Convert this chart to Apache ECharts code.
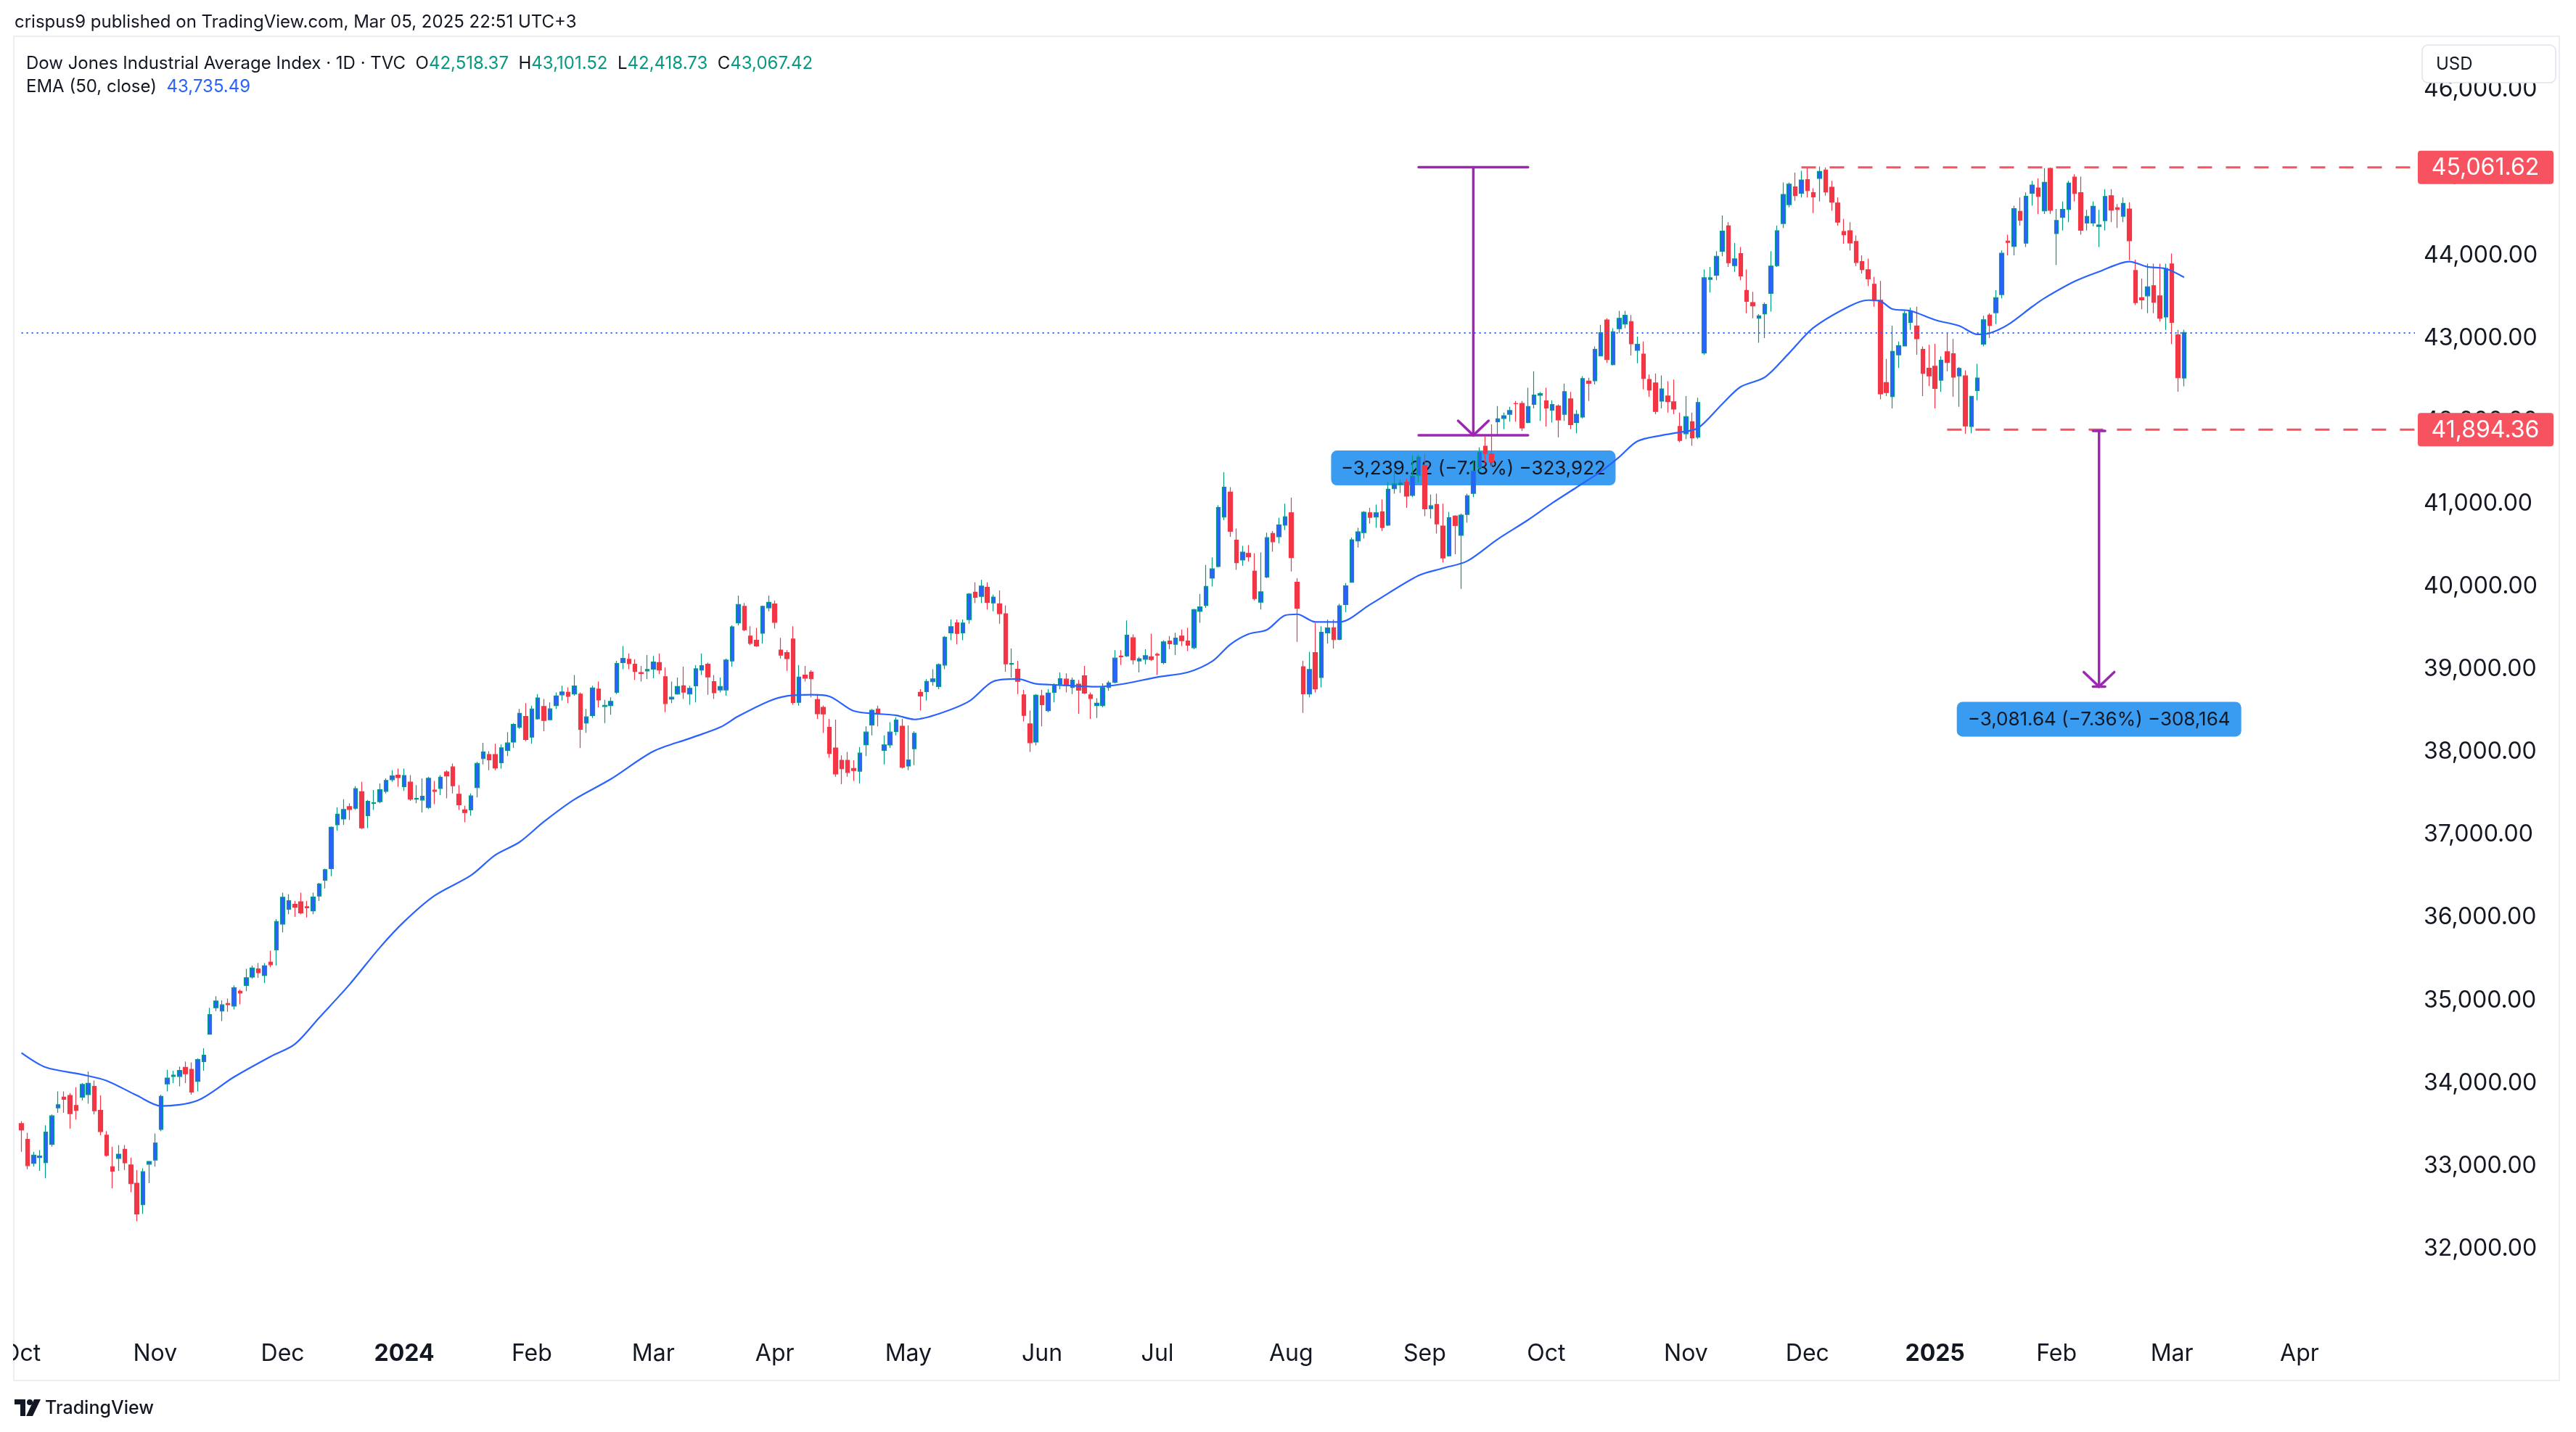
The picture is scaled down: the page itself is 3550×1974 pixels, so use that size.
<!DOCTYPE html>
<html>
<head>
<meta charset="utf-8">
<title>Dow Jones Industrial Average Index</title>
<script src="https://cdn.jsdelivr.net/npm/echarts@6/dist/echarts.min.js"></script>
<style>
  html, body { margin: 0; padding: 0; background: #fff; }
  #chart { width: 3550px; height: 1974px; }
</style>
</head>
<body>
<div id="chart"></div>
<script>
// daily bars: [date, open, close, low, high]
const oct23 = [
  ['2023-10-02', 33510, 33433, 33170, 33540], ['2023-10-03', 33320, 33002, 32960, 33400],
  ['2023-10-04', 33030, 33129, 32990, 33170], ['2023-10-05', 33100, 33119, 32940, 33190],
  ['2023-10-06', 33040, 33407, 32850, 33490], ['2023-10-09', 33260, 33604, 33230, 33620],
  ['2023-10-10', 33700, 33739, 33640, 33900], ['2023-10-11', 33830, 33804, 33640, 33900],
  ['2023-10-12', 33850, 33631, 33450, 33880], ['2023-10-13', 33730, 33670, 33560, 33950],
  ['2023-10-16', 33830, 33984, 33790, 34000], ['2023-10-17', 33860, 33997, 33750, 34140],
  ['2023-10-18', 33960, 33665, 33620, 34030], ['2023-10-19', 33670, 33414, 33370, 33850],
  ['2023-10-20', 33370, 33127, 33110, 33420], ['2023-10-23', 32990, 32936, 32730, 33230],
  ['2023-10-24', 33090, 33141, 32940, 33250], ['2023-10-25', 33200, 33036, 32950, 33250],
  ['2023-10-26', 33010, 32784, 32680, 33100], ['2023-10-27', 32790, 32418, 32330, 32950],
  ['2023-10-30', 32530, 32929, 32420, 32970], ['2023-10-31', 33020, 33053, 32790, 33060]
];
const nov23 = [
  ['2023-11-01', 33070, 33275, 32990, 33390], ['2023-11-02', 33440, 33839, 33420, 33860],
  ['2023-11-03', 33990, 34061, 33900, 34160], ['2023-11-06', 34080, 34096, 34000, 34150],
  ['2023-11-07', 34080, 34153, 33960, 34200], ['2023-11-08', 34190, 34112, 34000, 34260],
  ['2023-11-09', 34166, 33892, 33860, 34250], ['2023-11-10', 34020, 34283, 33900, 34300],
  ['2023-11-13', 34260, 34337, 34150, 34420], ['2023-11-14', 34590, 34828, 34590, 34910],
  ['2023-11-15', 34910, 34991, 34870, 35050], ['2023-11-16', 34870, 34945, 34750, 35000],
  ['2023-11-17', 34960, 34947, 34860, 35020], ['2023-11-20', 34930, 35151, 34890, 35180],
  ['2023-11-21', 35110, 35088, 34950, 35130], ['2023-11-22', 35180, 35273, 35110, 35380],
  ['2023-11-24', 35280, 35390, 35260, 35420], ['2023-11-27', 35380, 35333, 35270, 35450],
  ['2023-11-28', 35300, 35417, 35210, 35450], ['2023-11-29', 35460, 35430, 35400, 35600],
  ['2023-11-30', 35610, 35951, 35420, 35980]
];
const dec23 = [
  ['2023-12-01', 35920, 36246, 35820, 36300], ['2023-12-04', 36100, 36204, 36040, 36280],
  ['2023-12-05', 36160, 36125, 36010, 36200], ['2023-12-06', 36190, 36055, 36040, 36300],
  ['2023-12-07', 36130, 36118, 36000, 36200], ['2023-12-08', 36080, 36248, 36040, 36300],
  ['2023-12-11', 36260, 36404, 36200, 36420], ['2023-12-12', 36450, 36578, 36350, 36590],
  ['2023-12-13', 36590, 37090, 36500, 37100], ['2023-12-14', 37120, 37248, 37050, 37330],
  ['2023-12-15', 37190, 37306, 37120, 37430], ['2023-12-18', 37340, 37306, 37180, 37380],
  ['2023-12-19', 37320, 37558, 37300, 37590], ['2023-12-20', 37520, 37083, 37070, 37640],
  ['2023-12-21', 37230, 37405, 37080, 37420], ['2023-12-22', 37380, 37386, 37300, 37540],
  ['2023-12-26', 37400, 37545, 37380, 37620], ['2023-12-27', 37525, 37657, 37500, 37680],
  ['2023-12-28', 37665, 37710, 37640, 37780], ['2023-12-29', 37720, 37690, 37580, 37800]
];
const jan24 = [
  ['2024-01-02', 37580, 37715, 37530, 37800], ['2024-01-03', 37636, 37430, 37410, 37720],
  ['2024-01-04', 37430, 37440, 37380, 37600], ['2024-01-05', 37420, 37466, 37270, 37680],
  ['2024-01-08', 37330, 37683, 37310, 37700], ['2024-01-09', 37540, 37525, 37370, 37650],
  ['2024-01-10', 37560, 37696, 37480, 37720], ['2024-01-11', 37760, 37711, 37440, 37780],
  ['2024-01-12', 37820, 37593, 37500, 37860], ['2024-01-16', 37490, 37361, 37300, 37600],
  ['2024-01-17', 37300, 37267, 37150, 37350], ['2024-01-18', 37300, 37469, 37230, 37500],
  ['2024-01-19', 37570, 37863, 37450, 37880], ['2024-01-22', 37920, 38001, 37850, 38110],
  ['2024-01-23', 37970, 37906, 37780, 38010], ['2024-01-24', 37970, 37807, 37780, 38100],
  ['2024-01-25', 37870, 38050, 37800, 38090], ['2024-01-26', 38020, 38109, 37950, 38240],
  ['2024-01-29', 38120, 38333, 38050, 38350], ['2024-01-30', 38300, 38467, 38280, 38520],
  ['2024-01-31', 38430, 38150, 38130, 38590]
];
const feb24 = [
  ['2024-02-01', 38180, 38520, 38100, 38560], ['2024-02-02', 38400, 38654, 38390, 38700],
  ['2024-02-05', 38550, 38380, 38250, 38640], ['2024-02-06', 38390, 38521, 38390, 38600],
  ['2024-02-07', 38560, 38677, 38520, 38720], ['2024-02-08', 38690, 38726, 38620, 38800],
  ['2024-02-09', 38720, 38672, 38590, 38780], ['2024-02-12', 38700, 38797, 38680, 38930],
  ['2024-02-13', 38700, 38273, 38050, 38720], ['2024-02-14', 38350, 38424, 38230, 38520],
  ['2024-02-15', 38440, 38773, 38410, 38800], ['2024-02-16', 38760, 38628, 38540, 38850],
  ['2024-02-20', 38550, 38564, 38350, 38630], ['2024-02-21', 38560, 38612, 38450, 38660],
  ['2024-02-22', 38720, 39069, 38700, 39100], ['2024-02-23', 39080, 39131, 39000, 39280],
  ['2024-02-26', 39120, 39069, 39000, 39190], ['2024-02-27', 39060, 38972, 38870, 39120],
  ['2024-02-28', 38960, 38949, 38850, 39040], ['2024-02-29', 38980, 38996, 38880, 39170]
];
const mar24 = [
  ['2024-03-01', 39000, 39087, 38890, 39160], ['2024-03-04', 39080, 38990, 38940, 39190],
  ['2024-03-05', 38910, 38585, 38480, 39020], ['2024-03-06', 38640, 38661, 38590, 38850],
  ['2024-03-07', 38700, 38791, 38690, 38900], ['2024-03-08', 38800, 38723, 38640, 39030],
  ['2024-03-11', 38700, 38770, 38570, 38800], ['2024-03-12', 38800, 39005, 38600, 39050],
  ['2024-03-13', 38990, 39043, 38930, 39190], ['2024-03-14', 39060, 38906, 38690, 39080],
  ['2024-03-15', 38850, 38715, 38640, 38930], ['2024-03-18', 38750, 38790, 38720, 38900],
  ['2024-03-19', 38750, 39111, 38680, 39130], ['2024-03-20', 39100, 39512, 39030, 39530],
  ['2024-03-21', 39560, 39781, 39530, 39890], ['2024-03-22', 39760, 39476, 39460, 39800],
  ['2024-03-25', 39400, 39313, 39290, 39520], ['2024-03-26', 39350, 39282, 39270, 39500],
  ['2024-03-27', 39434, 39760, 39310, 39770], ['2024-03-28', 39741, 39807, 39700, 39890]
];
const apr24 = [
  ['2024-04-01', 39787, 39567, 39490, 39830], ['2024-04-02', 39232, 39170, 39130, 39380],
  ['2024-04-03', 39200, 39127, 38980, 39230], ['2024-04-04', 39364, 38597, 38570, 39520],
  ['2024-04-05', 38600, 38904, 38560, 39050], ['2024-04-08', 38930, 38892, 38850, 39040],
  ['2024-04-09', 38963, 38884, 38660, 38990], ['2024-04-10', 38633, 38462, 38400, 38700],
  ['2024-04-11', 38540, 38459, 38230, 38560], ['2024-04-12', 38297, 37983, 37930, 38400],
  ['2024-04-15', 38048, 37735, 37700, 38390], ['2024-04-16', 37900, 37799, 37610, 37960],
  ['2024-04-17', 37900, 37753, 37700, 38000], ['2024-04-18', 37800, 37775, 37650, 37900],
  ['2024-04-19', 37768, 37986, 37620, 38060], ['2024-04-22', 38087, 38240, 37950, 38310],
  ['2024-04-23', 38327, 38504, 38200, 38520], ['2024-04-24', 38520, 38461, 38310, 38560],
  ['2024-04-25', 38020, 38086, 37850, 38200], ['2024-04-26', 38085, 38240, 38050, 38360],
  ['2024-04-29', 38248, 38386, 38200, 38420], ['2024-04-30', 38312, 37816, 37800, 38400]
];
const may24 = [
  ['2024-05-01', 37830, 37903, 37780, 38320], ['2024-05-02', 38040, 38226, 37840, 38250],
  ['2024-05-03', 38720, 38676, 38500, 38760], ['2024-05-06', 38730, 38852, 38620, 38880],
  ['2024-05-07', 38850, 38884, 38800, 39000], ['2024-05-08', 38790, 39056, 38760, 39070],
  ['2024-05-09', 39050, 39388, 39000, 39400], ['2024-05-10', 39440, 39513, 39350, 39600],
  ['2024-05-13', 39560, 39432, 39300, 39600], ['2024-05-14', 39440, 39558, 39350, 39600],
  ['2024-05-15', 39600, 39908, 39550, 39920], ['2024-05-16', 39930, 39869, 39800, 40050],
  ['2024-05-17', 39880, 40004, 39800, 40080], ['2024-05-20', 39990, 39807, 39720, 40050],
  ['2024-05-21', 39800, 39872, 39700, 39900], ['2024-05-22', 39790, 39671, 39550, 39950],
  ['2024-05-23', 39670, 39065, 38970, 39770], ['2024-05-24', 39060, 39070, 38900, 39250],
  ['2024-05-28', 39000, 38853, 38700, 39100], ['2024-05-29', 38690, 38442, 38370, 38750],
  ['2024-05-30', 38340, 38112, 38000, 38500], ['2024-05-31', 38120, 38686, 38080, 38700]
];
const jun24 = [
  ['2024-06-03', 38680, 38571, 38310, 38750], ['2024-06-04', 38500, 38711, 38480, 38760],
  ['2024-06-05', 38720, 38807, 38600, 38830], ['2024-06-06', 38820, 38886, 38760, 38960],
  ['2024-06-07', 38880, 38799, 38720, 38950], ['2024-06-10', 38780, 38868, 38700, 38900],
  ['2024-06-11', 38820, 38747, 38460, 38870], ['2024-06-12', 38920, 38712, 38700, 39040],
  ['2024-06-13', 38690, 38647, 38400, 38720], ['2024-06-14', 38560, 38589, 38410, 38650],
  ['2024-06-17', 38560, 38778, 38540, 38830], ['2024-06-18', 38780, 38834, 38740, 38860],
  ['2024-06-20', 38840, 39134, 38830, 39230], ['2024-06-21', 39160, 39150, 39050, 39230],
  ['2024-06-24', 39160, 39411, 39150, 39590], ['2024-06-25', 39380, 39112, 39060, 39420],
  ['2024-06-26', 39100, 39127, 38960, 39150], ['2024-06-27', 39120, 39164, 39060, 39240],
  ['2024-06-28', 39150, 39118, 39100, 39430]
];
const jul24 = [
  ['2024-07-01', 39180, 39170, 38930, 39200], ['2024-07-02', 39080, 39331, 39060, 39350],
  ['2024-07-03', 39340, 39308, 39240, 39400], ['2024-07-05', 39300, 39375, 39170, 39440],
  ['2024-07-08', 39400, 39344, 39280, 39480], ['2024-07-09', 39340, 39291, 39220, 39500],
  ['2024-07-10', 39260, 39721, 39240, 39730], ['2024-07-11', 39700, 39753, 39560, 39910],
  ['2024-07-12', 39770, 40001, 39740, 40260], ['2024-07-15', 40100, 40212, 40000, 40350],
  ['2024-07-16', 40240, 40954, 40230, 40980], ['2024-07-17', 40840, 41198, 40800, 41380],
  ['2024-07-18', 41140, 40665, 40600, 41200], ['2024-07-19', 40560, 40288, 40200, 40700],
  ['2024-07-22', 40320, 40415, 40250, 40490], ['2024-07-23', 40400, 40358, 40300, 40500],
  ['2024-07-24', 40185, 39854, 39830, 40400], ['2024-07-25', 39810, 39935, 39720, 40410],
  ['2024-07-26', 40115, 40589, 40100, 40650], ['2024-07-29', 40640, 40540, 40420, 40670],
  ['2024-07-30', 40600, 40743, 40520, 40830], ['2024-07-31', 40740, 40842, 40680, 41000]
];
const aug24 = [
  ['2024-08-01', 40890, 40348, 40180, 41073], ['2024-08-02', 40050, 39737, 39330, 40100],
  ['2024-08-05', 39030, 38703, 38473, 39100], ['2024-08-06', 38700, 38997, 38660, 39210],
  ['2024-08-07', 39200, 38763, 38720, 39560], ['2024-08-08', 38900, 39446, 38780, 39520],
  ['2024-08-09', 39440, 39498, 39310, 39600], ['2024-08-12', 39500, 39357, 39250, 39600],
  ['2024-08-13', 39360, 39765, 39350, 39790], ['2024-08-14', 39780, 40008, 39690, 40040],
  ['2024-08-15', 40050, 40564, 40050, 40590], ['2024-08-16', 40550, 40660, 40470, 40710],
  ['2024-08-19', 40650, 40897, 40580, 40910], ['2024-08-20', 40890, 40834, 40760, 40950],
  ['2024-08-21', 40840, 40890, 40710, 40990], ['2024-08-22', 40900, 40713, 40670, 41050],
  ['2024-08-23', 40740, 41175, 40730, 41260], ['2024-08-26', 41180, 41240, 41120, 41420],
  ['2024-08-27', 41230, 41250, 41130, 41290], ['2024-08-28', 41260, 41091, 40950, 41300],
  ['2024-08-29', 41100, 41335, 41080, 41580], ['2024-08-30', 41344, 41563, 41260, 41590]
];
const sep24 = [
  ['2024-09-03', 41460, 40937, 40850, 41600], ['2024-09-04', 40940, 40975, 40820, 41110],
  ['2024-09-05', 40990, 40755, 40640, 41120], ['2024-09-06', 40731, 40345, 40290, 41000],
  ['2024-09-09', 40370, 40830, 40360, 40900], ['2024-09-10', 40850, 40736, 40390, 40860],
  ['2024-09-11', 40617, 40862, 39971, 40880], ['2024-09-12', 40870, 41097, 40770, 41120],
  ['2024-09-13', 41125, 41394, 41080, 41530], ['2024-09-16', 41437, 41622, 41380, 41680],
  ['2024-09-17', 41695, 41606, 41470, 41812], ['2024-09-18', 41600, 41504, 41450, 41958],
  ['2024-09-19', 41990, 42025, 41826, 42180], ['2024-09-20', 42030, 42063, 41900, 42100],
  ['2024-09-23', 42080, 42125, 41990, 42170], ['2024-09-24', 42210, 42208, 41990, 42240],
  ['2024-09-25', 42212, 41915, 41880, 42240], ['2024-09-26', 41980, 42175, 41970, 42400],
  ['2024-09-27', 42200, 42313, 42150, 42600], ['2024-09-30', 42310, 42330, 42000, 42350]
];
const oct24 = [
  ['2024-10-01', 42241, 42156, 41932, 42400], ['2024-10-02', 42130, 42197, 41980, 42250],
  ['2024-10-03', 42180, 42012, 41800, 42200], ['2024-10-04', 42080, 42353, 42000, 42450],
  ['2024-10-07', 42265, 41954, 41900, 42350], ['2024-10-08', 41980, 42080, 41850, 42130],
  ['2024-10-09', 42046, 42512, 42030, 42540], ['2024-10-10', 42480, 42454, 42240, 42520],
  ['2024-10-11', 42484, 42864, 42440, 42900], ['2024-10-14', 42784, 43065, 42780, 43160],
  ['2024-10-15', 43219, 42740, 42700, 43240], ['2024-10-16', 42679, 43077, 42670, 43120],
  ['2024-10-17', 43114, 43239, 43060, 43330], ['2024-10-18', 43170, 43276, 43120, 43330],
  ['2024-10-21', 43200, 42931, 42790, 43280], ['2024-10-22', 42852, 42925, 42697, 43018],
  ['2024-10-23', 42808, 42514, 42380, 42960], ['2024-10-24', 42501, 42374, 42290, 42560],
  ['2024-10-25', 42458, 42114, 42080, 42571], ['2024-10-28', 42239, 42387, 42150, 42550],
  ['2024-10-29', 42300, 42233, 42100, 42480], ['2024-10-30', 42230, 42142, 42080, 42500],
  ['2024-10-31', 41932, 41763, 41740, 42100]
];
const nov24 = [
  ['2024-11-01', 41844, 42052, 41780, 42300], ['2024-11-04', 41989, 41794, 41700, 42100],
  ['2024-11-05', 41803, 42222, 41780, 42280], ['2024-11-06', 42820, 43729, 42800, 43830],
  ['2024-11-07', 43710, 43729, 43550, 43860], ['2024-11-08', 43759, 43989, 43700, 44050],
  ['2024-11-11', 44050, 44293, 43990, 44482], ['2024-11-12', 44356, 43911, 43860, 44400],
  ['2024-11-13', 43876, 43958, 43800, 44150], ['2024-11-14', 44021, 43751, 43700, 44100],
  ['2024-11-15', 43576, 43445, 43300, 43830], ['2024-11-18', 43430, 43390, 43240, 43560],
  ['2024-11-19', 43240, 43269, 42943, 43290], ['2024-11-20', 43293, 43408, 43000, 43430],
  ['2024-11-21', 43540, 43870, 43320, 44050], ['2024-11-22', 43876, 44297, 43860, 44360],
  ['2024-11-25', 44385, 44736, 44330, 44880], ['2024-11-26', 44613, 44860, 44580, 44880],
  ['2024-11-27', 44828, 44722, 44660, 45000], ['2024-11-29', 44750, 44911, 44700, 45020]
];
const dec24 = [
  ['2024-12-02', 44916, 44782, 44700, 45060], ['2024-12-03', 44758, 44706, 44510, 44810],
  ['2024-12-04', 44930, 45014, 44650, 45074], ['2024-12-05', 45032, 44766, 44720, 45060],
  ['2024-12-06', 44823, 44643, 44540, 44900], ['2024-12-09', 44633, 44401, 44360, 44700],
  ['2024-12-10', 44289, 44248, 44140, 44440], ['2024-12-11', 44298, 44149, 44060, 44400],
  ['2024-12-12', 44167, 43914, 43870, 44240], ['2024-12-13', 43925, 43828, 43780, 44000],
  ['2024-12-16', 43826, 43717, 43630, 43960], ['2024-12-17', 43651, 43450, 43380, 43740],
  ['2024-12-18', 43459, 42327, 42260, 43690], ['2024-12-19', 42463, 42342, 42300, 42750],
  ['2024-12-20', 42294, 42840, 42150, 43150], ['2024-12-23', 42797, 42907, 42640, 42960],
  ['2024-12-24', 42905, 43297, 42900, 43330], ['2024-12-26', 43191, 43326, 43100, 43370],
  ['2024-12-27', 43147, 42992, 42800, 43380], ['2024-12-30', 42864, 42574, 42300, 42900],
  ['2024-12-31', 42637, 42544, 42420, 42920]
];
const jan25 = [
  ['2025-01-02', 42660, 42392, 42150, 42930], ['2025-01-03', 42492, 42732, 42350, 42780],
  ['2025-01-06', 42835, 42706, 42600, 43060], ['2025-01-07', 42812, 42528, 42290, 42990],
  ['2025-01-08', 42544, 42635, 42170, 42650], ['2025-01-10', 42544, 41938, 41844, 42610],
  ['2025-01-13', 41932, 42297, 41850, 42300], ['2025-01-14', 42367, 42518, 42250, 42690],
  ['2025-01-15', 42928, 43222, 42900, 43270], ['2025-01-16', 43278, 43153, 43000, 43300],
  ['2025-01-17', 43307, 43488, 43170, 43580], ['2025-01-21', 43526, 44026, 43480, 44060],
  ['2025-01-22', 44173, 44157, 44000, 44250], ['2025-01-23', 44109, 44565, 44000, 44600],
  ['2025-01-24', 44531, 44424, 44360, 44700], ['2025-01-27', 44147, 44714, 44100, 44760],
  ['2025-01-28', 44750, 44850, 44600, 44900], ['2025-01-29', 44814, 44714, 44500, 44930],
  ['2025-01-30', 44537, 44882, 44500, 45054], ['2025-01-31', 45050, 44545, 44500, 45061]
];
const feb25 = [
  ['2025-02-03', 44263, 44421, 43884, 44560], ['2025-02-04', 44459, 44556, 44300, 44650],
  ['2025-02-05', 44555, 44873, 44400, 44900], ['2025-02-06', 44945, 44747, 44650, 44980],
  ['2025-02-07', 44758, 44303, 44250, 44950], ['2025-02-10', 44391, 44470, 44300, 44550],
  ['2025-02-11', 44391, 44593, 44350, 44650], ['2025-02-12', 44350, 44368, 44100, 44550],
  ['2025-02-13', 44420, 44711, 44300, 44800], ['2025-02-14', 44720, 44546, 44400, 44800],
  ['2025-02-18', 44575, 44556, 44330, 44620], ['2025-02-19', 44473, 44628, 44400, 44700],
  ['2025-02-20', 44560, 44177, 43940, 44640], ['2025-02-21', 43817, 43428, 43400, 43948],
  ['2025-02-24', 43488, 43461, 43350, 43720], ['2025-02-25', 43511, 43621, 43300, 43900],
  ['2025-02-26', 43634, 43433, 43300, 43900], ['2025-02-27', 43511, 43240, 43200, 43900],
  ['2025-02-28', 43255, 43841, 43100, 43900]
];
const mar25 = [
  ['2025-03-03', 43896, 43191, 42929, 44022], ['2025-03-04', 43040, 42521, 42352, 43100],
  ['2025-03-05', 42518.37, 43067.42, 42418.73, 43101.52]
];

// empty trading days to the right of the last bar
const futureDates = [
  '2025-03-06', '2025-03-07', '2025-03-10', '2025-03-11', '2025-03-12', '2025-03-13', '2025-03-14',
  '2025-03-17', '2025-03-18', '2025-03-19', '2025-03-20', '2025-03-21', '2025-03-24', '2025-03-25',
  '2025-03-26', '2025-03-27', '2025-03-28', '2025-03-31', '2025-04-01', '2025-04-02', '2025-04-03',
  '2025-04-04', '2025-04-07', '2025-04-08', '2025-04-09', '2025-04-10', '2025-04-11', '2025-04-14',
  '2025-04-15', '2025-04-16', '2025-04-17', '2025-04-21', '2025-04-22', '2025-04-23', '2025-04-24',
  '2025-04-25', '2025-04-28', '2025-04-29'
];

// EMA (50, close)
const emaDates = [
  '2023-10-02', '2023-10-06', '2023-10-16', '2023-10-20', '2023-10-27', '2023-11-02', '2023-11-10',
  '2023-11-20', '2023-11-29', '2023-12-05', '2023-12-11', '2023-12-18', '2023-12-26', '2024-01-02',
  '2024-01-09', '2024-01-18', '2024-01-24', '2024-01-30', '2024-02-05', '2024-02-12', '2024-02-21',
  '2024-03-01', '2024-03-11', '2024-03-18', '2024-03-21', '2024-03-28', '2024-04-03', '2024-04-09',
  '2024-04-12', '2024-04-18', '2024-04-24', '2024-04-29', '2024-05-02', '2024-05-08', '2024-05-15',
  '2024-05-21', '2024-05-28', '2024-05-31', '2024-06-06', '2024-06-14', '2024-06-21', '2024-07-01',
  '2024-07-09', '2024-07-15', '2024-07-18', '2024-07-23', '2024-07-26', '2024-07-31', '2024-08-02',
  '2024-08-07', '2024-08-13', '2024-08-20', '2024-08-30', '2024-09-06', '2024-09-12', '2024-09-19',
  '2024-09-26', '2024-10-02', '2024-10-08', '2024-10-14', '2024-10-17', '2024-10-22', '2024-10-28',
  '2024-10-31', '2024-11-05', '2024-11-11', '2024-11-14', '2024-11-20', '2024-11-26', '2024-12-03',
  '2024-12-11', '2024-12-16', '2024-12-18', '2024-12-20', '2024-12-26', '2025-01-02', '2025-01-08',
  '2025-01-14', '2025-01-16', '2025-01-22', '2025-01-28', '2025-01-30', '2025-02-06', '2025-02-12',
  '2025-02-20', '2025-02-25', '2025-02-28', '2025-03-05'
];
const emaValues = [
  34365, 34190, 34102, 34029, 33850, 33722, 33790,
  34074, 34320, 34470, 34789, 35191, 35638, 35951,
  36264, 36510, 36756, 36912, 37158, 37426, 37672,
  38007, 38164, 38298, 38432, 38613, 38677, 38692,
  38672, 38496, 38461, 38443, 38393, 38461, 38613,
  38853, 38882, 38823, 38809, 38788, 38818, 38905,
  38963, 39095, 39300, 39425, 39475, 39650, 39664,
  39571, 39571, 39781, 40132, 40220, 40307, 40570,
  40803, 41008, 41198, 41390, 41563, 41754, 41826,
  41862, 41914, 42206, 42411, 42528, 42820, 43126,
  43389, 43459, 43447, 43351, 43330, 43220, 43148,
  43045, 43060, 43162, 43380, 43482, 43686, 43803,
  43925, 43861, 43838, 43735.49
];

// horizontal rays drawn on the chart
const rayStart = ['2024-11-29', '2025-01-06'];
const rayPrice = [45061.62, 41894.36];

// price range measurements
const rangeCapFrom = ['2024-08-30', '2025-02-11'];
const rangeCapTo = ['2024-09-26', '2025-02-13'];
const rangeAt = ['2024-09-13', '2025-02-12'];
const rangeFrom = [45065, 41880];
const rangeTo = [41826, 38790];
const rangeText = ['\u22123,239.22 (\u22127.18%) \u2212323,922', '\u22123,081.64 (\u22127.36%) \u2212308,164'];

const monthNames = ['Jan', 'Feb', 'Mar', 'Apr', 'May', 'Jun', 'Jul', 'Aug', 'Sep', 'Oct', 'Nov', 'Dec'];

const bars = [].concat(oct23, nov23, dec23, jan24, feb24, mar24, apr24, may24, jun24,
  jul24, aug24, sep24, oct24, nov24, dec24, jan25, feb25, mar25);
const allDates = bars.map(r => r[0]).concat(futureDates);
const ohlc = bars.map(r => [r[1], r[2], r[3], r[4]]);
const last = bars[bars.length - 1];

const FONT = 'Inter, "Noto Sans", sans-serif';
const INK = '#131722';
const UP = '#089981';
const DOWN = '#f23645';
const BODY_UP = '#2962ff';
const RAY = '#f7525f';
const PURPLE = '#9c27b0';

const fmt = v => v.toLocaleString('en-US', { minimumFractionDigits: 2, maximumFractionDigits: 2 });

function renderRay(params, api) {
  const p = api.value(1);
  const a = api.coord([api.value(0), p]);
  const b = api.coord([allDates.length - 1, p]);
  return {
    type: 'group',
    children: [
      { type: 'line', shape: { x1: a[0], y1: a[1], x2: b[0], y2: b[1] },
        style: { stroke: RAY, lineWidth: 3, lineDash: [20, 19] } },
      { type: 'rect', shape: { x: b[0] + 4, y: b[1] - 23, width: 187, height: 46, r: 4 },
        style: { fill: RAY } },
      { type: 'text', x: b[0] + 97, y: b[1] + 1,
        style: { text: fmt(p), fill: '#ffffff', font: '32px ' + FONT, align: 'center', verticalAlign: 'middle' } }
    ]
  };
}

function renderRange(params, api) {
  const i = params.dataIndex;
  const x = api.value(0);
  const top = api.coord([x, api.value(1)]);
  const bot = api.coord([x, api.value(2)]);
  const c0 = api.coord([allDates.indexOf(rangeCapFrom[i]), api.value(1)]);
  const c1 = api.coord([allDates.indexOf(rangeCapTo[i]), api.value(1)]);
  const line = { stroke: PURPLE, lineWidth: 3.5, lineCap: 'round', fill: null };
  return {
    type: 'group',
    children: [
      { type: 'line', shape: { x1: c0[0], y1: top[1], x2: c1[0], y2: top[1] }, style: line },
      { type: 'line', shape: { x1: c0[0], y1: bot[1], x2: c1[0], y2: bot[1] }, style: line },
      { type: 'line', shape: { x1: top[0], y1: top[1], x2: bot[0], y2: bot[1] }, style: line },
      { type: 'polyline', shape: { points: [[bot[0] - 21, bot[1] - 20], [bot[0], bot[1]], [bot[0] + 21, bot[1] - 20]] },
        style: line }
    ]
  };
}

function renderRangeLabel(params, api) {
  const i = params.dataIndex;
  const bot = api.coord([api.value(0), api.value(2)]);
  return {
    type: 'group',
    children: [
      { type: 'rect', shape: { x: bot[0] - 196, y: bot[1] + 21, width: 392, height: 48, r: 8 },
        style: { fill: '#3a9cf0' } },
      { type: 'text', x: bot[0], y: bot[1] + 46,
        style: { text: rangeText[i], fill: INK, font: '26px ' + FONT, align: 'center', verticalAlign: 'middle' } }
    ]
  };
}

const chart = echarts.init(document.getElementById('chart'));

chart.setOption({
  animation: false,
  backgroundColor: '#ffffff',
  textStyle: { fontFamily: FONT },
  grid: { left: 19, right: 222, top: 9.7, bottom: 138.7 },
  xAxis: {
    type: 'category',
    data: allDates,
    boundaryGap: false,
    axisLine: { show: false },
    axisTick: { show: false },
    splitLine: { show: false },
    axisLabel: {
      margin: 15,
      fontSize: 32,
      color: INK,
      interval: (i, v) => i === 0 || v.slice(0, 7) !== allDates[i - 1].slice(0, 7),
      formatter: v => {
        const m = +v.slice(5, 7);
        return m === 1 ? '{y|' + v.slice(0, 4) + '}' : monthNames[m - 1];
      },
      rich: { y: { fontSize: 32, fontWeight: 'bold', color: INK, fontFamily: FONT } }
    }
  },
  yAxis: {
    type: 'value',
    position: 'right',
    min: 31000,
    max: 47000,
    interval: 1000,
    axisLine: { show: false },
    axisTick: { show: false },
    splitLine: { show: false },
    axisLabel: {
      margin: 12,
      fontSize: 32,
      color: INK,
      formatter: v => (v <= 31000 || v >= 47000) ? '' : fmt(v)
    }
  },
  series: [
    {
      type: 'custom',
      name: 'range labels',
      z: 1,
      clip: false,
      renderItem: renderRangeLabel,
      encode: { x: 0, y: 1 },
      data: rangeAt.map((d, i) => [d, rangeFrom[i], rangeTo[i]]),
      markLine: {
        silent: true,
        symbol: 'none',
        label: { show: false },
        lineStyle: { color: BODY_UP, type: [2, 5], width: 2 },
        data: [{ yAxis: last[2] }]
      }
    },
    {
      type: 'candlestick',
      name: 'DJI',
      z: 2,
      clip: true,
      barWidth: 6,
      data: ohlc,
      itemStyle: {
        color: BODY_UP,
        color0: DOWN,
        borderColor: UP,
        borderColor0: DOWN,
        borderWidth: 1.2
      }
    },
    {
      type: 'line',
      name: 'EMA (50, close)',
      z: 3,
      showSymbol: false,
      smooth: 0.3,
      data: emaDates.map((d, i) => [d, emaValues[i]]),
      lineStyle: { color: BODY_UP, width: 2.2 }
    },
    {
      type: 'custom',
      name: 'rays',
      z: 4,
      clip: false,
      renderItem: renderRay,
      encode: { x: 0, y: 1 },
      data: rayStart.map((d, i) => [d, rayPrice[i]])
    },
    {
      type: 'custom',
      name: 'ranges',
      z: 4,
      clip: false,
      renderItem: renderRange,
      encode: { x: 0, y: 1 },
      data: rangeAt.map((d, i) => [d, rangeFrom[i], rangeTo[i]])
    }
  ],
  graphic: {
    elements: [
      // pane frame
      { type: 'rect', z: 0, silent: true,
        shape: { x: 19, y: 50, width: 3508, height: 1853 },
        style: { fill: null, stroke: '#eceef2', lineWidth: 2 } },
      // clip the first month label like the pane edge does
      { type: 'rect', z: 100, silent: true,
        shape: { x: 0, y: 1842, width: 18, height: 56 }, style: { fill: '#ffffff' } },
      { type: 'text', z: 100, x: 20, y: 31,
        style: { text: 'crispus9 published on TradingView.com, Mar 05, 2025 22:51 UTC+3',
          font: '24px ' + FONT, fill: INK, verticalAlign: 'middle' } },
      { type: 'text', z: 100, x: 36, y: 88,
        style: {
          text: '{n|Dow Jones Industrial Average Index \u00b7 1D \u00b7 TVC}  {n|O}{v|' + fmt(last[1]) +
            '}  {n|H}{v|' + fmt(last[4]) + '}  {n|L}{v|' + fmt(last[3]) + '}  {n|C}{v|' + fmt(last[2]) + '}',
          font: '24px ' + FONT, verticalAlign: 'middle',
          rich: {
            n: { fill: INK, fontSize: 24, fontFamily: FONT },
            v: { fill: UP, fontSize: 24, fontFamily: FONT }
          }
        } },
      { type: 'text', z: 100, x: 36, y: 120,
        style: {
          text: '{n|EMA (50, close)}  {b|' + fmt(emaValues[emaValues.length - 1]) + '}',
          font: '24px ' + FONT, verticalAlign: 'middle',
          rich: {
            n: { fill: INK, fontSize: 24, fontFamily: FONT },
            b: { fill: BODY_UP, fontSize: 24, fontFamily: FONT }
          }
        } },
      // currency box
      { type: 'rect', z: 100,
        shape: { x: 3338, y: 62, width: 184, height: 52, r: 8 },
        style: { fill: '#ffffff', stroke: '#e0e3eb', lineWidth: 1.5 } },
      { type: 'text', z: 101, x: 3357, y: 89,
        style: { text: 'USD', font: '24px ' + FONT, fill: INK, verticalAlign: 'middle' } },
      // TradingView mark
      { type: 'polygon', z: 100,
        shape: { points: [[20, 1929], [35, 1929], [35, 1952], [28, 1952], [28, 1936], [20, 1936]] },
        style: { fill: INK } },
      { type: 'circle', z: 100, shape: { cx: 41, cy: 1933, r: 4 }, style: { fill: INK } },
      { type: 'polygon', z: 100,
        shape: { points: [[47, 1929], [56, 1929], [45, 1952], [36, 1952]] },
        style: { fill: INK } },
      { type: 'text', z: 100, x: 62, y: 1941,
        style: { text: 'TradingView', font: '500 25px ' + FONT, fill: INK, verticalAlign: 'middle' } }
    ]
  }
});
</script>
</body>
</html>
